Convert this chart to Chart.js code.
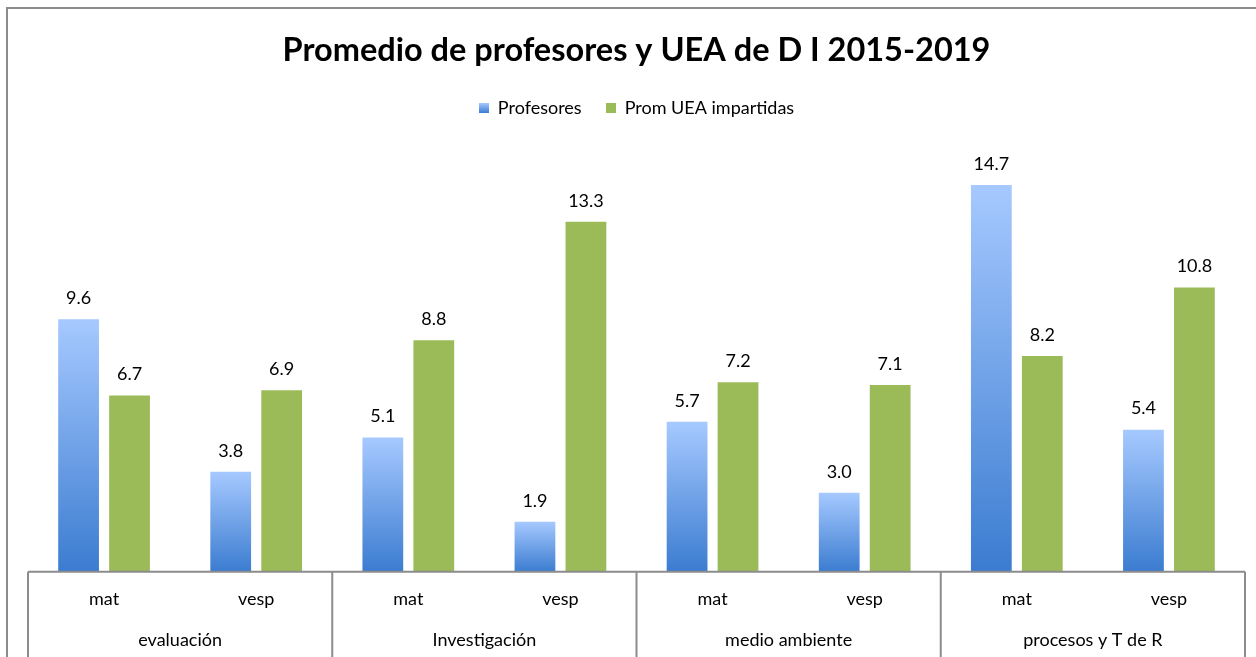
<!DOCTYPE html>
<html>
<head>
<meta charset="utf-8">
<script src="https://cdn.jsdelivr.net/npm/chart.js@4"></script>
<style>
  body { margin: 0; background: #fff; }
  #wrap { position: relative; width: 1256px; height: 657px; }
</style>
</head>
<body>
<div id="wrap"><canvas id="graph" width="1256" height="657"></canvas></div>
<script>
// datos del grafico
const turnos = ["mat", "vesp", "mat", "vesp", "mat", "vesp", "mat", "vesp"];
const areas = ["evaluación", "Investigación", "medio ambiente", "procesos y T de R"];
const profesores = [9.6, 3.8, 5.1, 1.9, 5.7, 3.0, 14.7, 5.4];
const promUEA = [6.7, 6.9, 8.8, 13.3, 7.2, 7.1, 8.2, 10.8];

const fuente = "Lato, 'Open Sans', sans-serif";

// degradado azul por barra
function azul(context) {
    const chart = context.chart;
    if (!chart.chartArea || context.type !== "data") return "#6a9de6";
    const y = chart.scales.y;
    const top = y.getPixelForValue(context.raw);
    const bot = y.getPixelForValue(0);
    const g = chart.ctx.createLinearGradient(0, top, 0, bot);
    g.addColorStop(0, "#a6c9ff");
    g.addColorStop(1, "#3b7cd0");
    return g;
}

// cuadritos de la leyenda
function cuadro(c1, c2) {
    const cv = document.createElement("canvas");
    cv.width = 10; cv.height = 10;
    const x = cv.getContext("2d");
    const g = x.createLinearGradient(0, 0, 0, 10);
    g.addColorStop(0, c1);
    g.addColorStop(1, c2);
    x.fillStyle = g;
    x.fillRect(0, 0, 10, 10);
    return cv;
}
const iconoAzul = cuadro("#a6c9ff", "#3b7cd0");
const iconoVerde = cuadro("#9bbb59", "#9bbb59");

// etiquetas sobre las barras
const etiquetas = {
    id: "etiquetas",
    afterDatasetsDraw(chart) {
        const ctx = chart.ctx;
        ctx.save();
        ctx.font = "18px " + fuente;
        ctx.fillStyle = "#000";
        ctx.textAlign = "center";
        ctx.textBaseline = "middle";
        chart.data.datasets.forEach((ds, i) => {
            chart.getDatasetMeta(i).data.forEach((bar, j) => {
                ctx.fillText(ds.data[j].toFixed(1), bar.x, bar.y - 21);
            });
        });
        ctx.restore();
    }
};

// marco y tabla del eje x
const tabla = {
    id: "tabla",
    afterDraw(chart) {
        const ctx = chart.ctx;
        const area = chart.chartArea;
        const x = chart.scales.x;
        const h = chart.height;
        ctx.save();
        ctx.strokeStyle = "#8c8c8c";
        ctx.lineWidth = 2;
        ctx.beginPath();
        ctx.moveTo(7, h);
        ctx.lineTo(7, 8);
        ctx.lineTo(chart.width, 8);
        ctx.stroke();

        ctx.beginPath();
        ctx.moveTo(area.left, area.bottom);
        ctx.lineTo(area.right, area.bottom);
        for (let i = 0; i <= areas.length; i++) {
            let px;
            if (i === 0) px = area.left;
            else if (i === areas.length) px = area.right;
            else px = (x.getPixelForValue(2 * i - 1) + x.getPixelForValue(2 * i)) / 2;
            ctx.moveTo(px, area.bottom);
            ctx.lineTo(px, h);
        }
        ctx.stroke();
        ctx.restore();
    }
};

new Chart(document.getElementById("graph"), {
    type: "bar",
    data: {
        labels: turnos,
        datasets: [
            {
                label: "Profesores",
                data: profesores,
                backgroundColor: azul,
                pointStyle: iconoAzul,
                categoryPercentage: 0.67,
                barPercentage: 0.8
            },
            {
                label: "Prom UEA impartidas",
                data: promUEA,
                backgroundColor: "#9bbb59",
                pointStyle: iconoVerde,
                categoryPercentage: 0.67,
                barPercentage: 0.8
            }
        ]
    },
    options: {
        responsive: false,
        animation: false,
        layout: { padding: { left: 28, right: 11, top: 0, bottom: 4 } },
        plugins: {
            title: {
                display: true,
                text: "Promedio de profesores y UEA de D I 2015-2019",
                color: "#000",
                font: { family: fuente, size: 32.5, weight: "bold" },
                padding: { top: 31, bottom: 5 }
            },
            legend: {
                labels: {
                    usePointStyle: true,
                    color: "#000",
                    font: { family: fuente, size: 18 },
                    padding: 24,
                    boxWidth: 10,
                    boxHeight: 10
                }
            },
            tooltip: { enabled: false }
        },
        scales: {
            x: {
                grid: { display: false, drawTicks: false },
                border: { display: false },
                ticks: { color: "#000", font: { family: fuente, size: 18 }, padding: 17, maxRotation: 0, autoSkip: false }
            },
            x2: {
                type: "category",
                position: "bottom",
                labels: areas,
                grid: { display: false, drawTicks: false },
                border: { display: false },
                ticks: { color: "#000", font: { family: fuente, size: 18 }, padding: 2, maxRotation: 0, autoSkip: false }
            },
            y: {
                display: false,
                min: 0,
                max: 16.9
            }
        }
    },
    plugins: [etiquetas, tabla]
});
</script>
</body>
</html>
